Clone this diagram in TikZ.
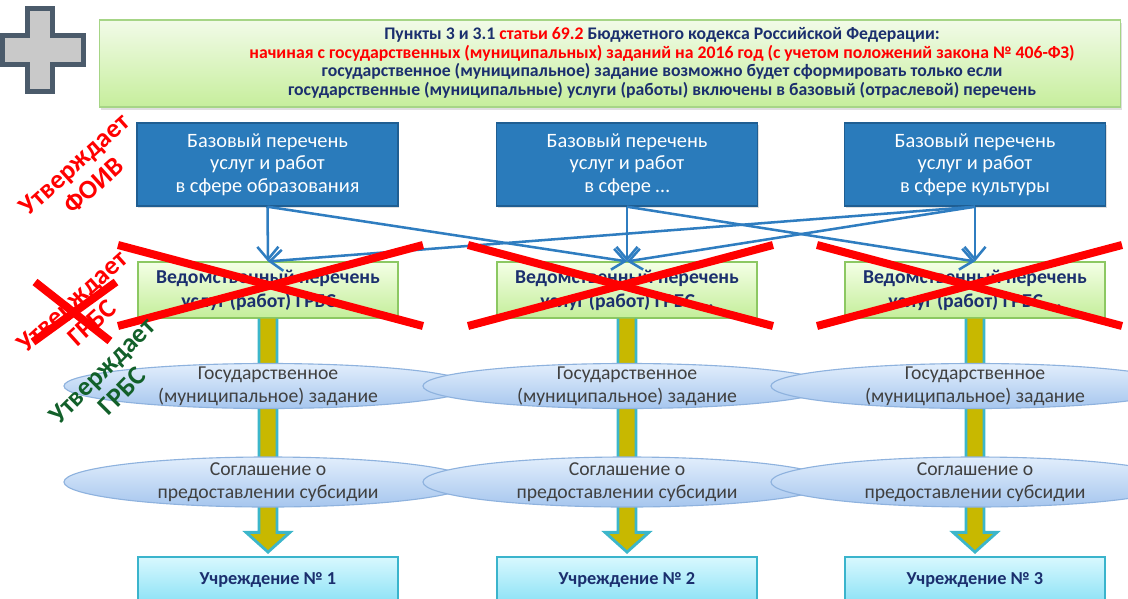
\documentclass[tikz,border=0pt]{standalone}
\usepackage{fontspec}
\setmainfont{Carlito}
\usetikzlibrary{arrows.meta,shapes.geometric,calc,shadows}

\definecolor{baseblue}{HTML}{2A7BBB}
\definecolor{baseedge}{HTML}{1F5E92}
\definecolor{navytext}{HTML}{1B2F6E}
\definecolor{linkblue}{HTML}{2F7DC0}
\definecolor{fatfill}{HTML}{C8B800}
\definecolor{fatedge}{HTML}{3CB6CA}
\definecolor{grbsgreen}{HTML}{12602A}
\definecolor{plusfill}{HTML}{C9C9C9}
\definecolor{plusedge}{HTML}{4B5B6B}
\definecolor{lawtop}{HTML}{F2FBE8}
\definecolor{lawbottom}{HTML}{C6EE9C}
\definecolor{lawedge}{HTML}{A6D586}
\definecolor{vptop}{HTML}{F4FFE6}
\definecolor{vpbottom}{HTML}{C4EE9A}
\definecolor{vpedge}{HTML}{8CC862}
\definecolor{tasktop}{HTML}{E2EEFC}
\definecolor{taskbottom}{HTML}{A6C6EE}
\definecolor{taskedge}{HTML}{8EB2DE}
\definecolor{insttop}{HTML}{D8F8FE}
\definecolor{instbottom}{HTML}{8CE2F6}
\definecolor{instedge}{HTML}{3AB4CC}
\definecolor{crossred}{HTML}{FF0000}

\begin{document}
\begin{tikzpicture}[x=0.025cm,y=-0.025cm]
    % --- Dimensions (pixels of the slide) ---
    \def\ColA{268}    % centre of column 1
    \def\ColB{627}    % centre of column 2
    \def\ColC{975}    % centre of column 3
    \def\BaseY{164.5} % base lists
    \def\VpY{290}     % departmental lists
    \def\TaskY{386}   % state task
    \def\DealY{482}   % subsidy agreement
    \def\InstY{580}   % institutions

    % --- Styles ---
    \tikzset{
        law box/.style={
            draw=lawedge, line width=0.8pt,
            top color=lawtop, bottom color=lawbottom,
            minimum width=25.5cm, minimum height=2.175cm,
            drop shadow={shadow xshift=1pt, shadow yshift=-2pt, opacity=0.25}
        },
        law text/.style={font=\bfseries\fontsize{12.6}{13.3}\selectfont,
            text=navytext, align=center},
        base box/.style={
            draw=baseedge, line width=1pt, fill=baseblue,
            minimum width=6.525cm, minimum height=2.075cm,
            text=white, align=center,
            font=\fontsize{14.5}{16}\selectfont,
            drop shadow={shadow xshift=1pt, shadow yshift=-1.5pt, opacity=0.25}
        },
        vp box/.style={
            draw=vpedge, line width=0.8pt,
            top color=vptop, bottom color=vpbottom,
            minimum width=6.5cm, minimum height=1.4cm,
            text=navytext, align=center,
            font=\bfseries\fontsize{14}{17}\selectfont
        },
        inst box/.style={
            draw=instedge, line width=1pt,
            top color=insttop, bottom color=instbottom,
            minimum width=6.5cm, minimum height=1.15cm,
            text=navytext, font=\bfseries\fontsize{13}{15}\selectfont
        },
        task ellipse/.style={
            ellipse, draw=taskedge, line width=0.8pt,
            top color=tasktop, bottom color=taskbottom,
            minimum width=10.2cm, inner sep=0pt
        },
        task text/.style={text=black!75, align=center,
            font=\fontsize{14}{16.5}\selectfont},
        link/.style={
            linkblue, line width=1.8pt,
            -{Straight Barb[length=9pt,width=15pt]}
        },
        fat arrow/.style={fill=fatfill, draw=fatedge, line width=2pt,
            line join=miter},
        red cross/.style={crossred, line width=5.7pt},
        stamp/.style={font=\bfseries\fontsize{19}{20.5}\selectfont,
            align=center}
    }

    \useasboundingbox (0,0) rectangle (1128,598);

    % =========================================================
    % 1. PLUS SIGN AND LAW BOX
    % =========================================================
    \filldraw[fill=plusfill, draw=plusedge, line width=3.5pt]
        (27.5,8.5) -- (52.5,8.5) -- (52.5,35.5) -- (83.5,35.5)
        -- (83.5,64.5) -- (52.5,64.5) -- (52.5,91.5) -- (27.5,91.5)
        -- (27.5,64.5) -- (2.5,64.5) -- (2.5,35.5) -- (27.5,35.5) -- cycle;

    \node[law box] (law) at (610,63.5) {};
    \node[law text] (lawtxt) at (662,63) {
        Пункты 3 и 3.1 \textcolor{crossred}{статьи 69.2} Бюджетного кодекса Российской Федерации:\\
        \textcolor{crossred}{начиная с государственных (муниципальных) заданий на 2016 год (с учетом положений закона № 406-ФЗ)}\\
        государственное (муниципальное) задание возможно будет сформировать только если\\
        государственные (муниципальные) услуги (работы) включены в базовый (отраслевой) перечень
    };

    % =========================================================
    % 2. BOXES
    % =========================================================
    \node[base box] (base1) at (267.5,\BaseY) {Базовый перечень\\услуг и работ\\в сфере образования};
    \node[base box] (base2) at (\ColB,\BaseY) {Базовый перечень\\услуг и работ\\в сфере \dots};
    \node[base box] (base3) at (\ColC,\BaseY) {Базовый перечень\\услуг и работ\\в сфере культуры};

    \node[vp box] (vp1) at (\ColA,\VpY) {Ведомственный перечень\\услуг (работ) ГРБС \dots};
    \node[vp box] (vp2) at (\ColB,\VpY) {Ведомственный перечень\\услуг (работ) ГРБС \dots};
    \node[vp box] (vp3) at (\ColC,\VpY) {Ведомственный перечень\\услуг (работ) ГРБС \dots};

    \node[inst box] (inst1) at (\ColA,\InstY) {Учреждение № 1};
    \node[inst box] (inst2) at (\ColB,\InstY) {Учреждение № 2};
    \node[inst box] (inst3) at (\ColC,\InstY) {Учреждение № 3};

    % =========================================================
    % 3. CONNECTORS
    % =========================================================
    \foreach \a/\b in {1/1,1/2,2/2,2/3,3/3,3/1,3/2}
        \draw[link] (base\a.south) -- (vp\b.north);

    % thick yellow arrows (top edge left open)
    \foreach \i in {1,2,3} {
        \path[fat arrow] let \p1=(vp\i.south), \p2=(inst\i.north) in
            (\x1-6.4pt,\y1) -- (\x1-6.4pt,\y2+17pt) -- (\x1-15.6pt,\y2+17pt)
            -- (\x1,\y2+3pt) -- (\x1+15.6pt,\y2+17pt) -- (\x1+6.4pt,\y2+17pt)
            -- (\x1+6.4pt,\y1);
    }

    % =========================================================
    % 4. ELLIPSES
    % =========================================================
    \node[task ellipse, minimum height=1.125cm] (task1) at (\ColA,\TaskY) {};
    \node[task ellipse, minimum height=1.125cm] (task2) at (\ColB,\TaskY) {};
    \node[task ellipse, minimum height=1.125cm] (task3) at (\ColC,\TaskY) {};
    \node[task ellipse, minimum height=1.25cm] (deal1) at (\ColA,\DealY) {};
    \node[task ellipse, minimum height=1.25cm] (deal2) at (\ColB,\DealY) {};
    \node[task ellipse, minimum height=1.25cm] (deal3) at (\ColC,\DealY) {};

    \foreach \i in {1,2,3} {
        \node[task text] (task\i txt) at (task\i) {Государственное\\(муниципальное) задание};
        \node[task text] (deal\i txt) at (deal\i) {Соглашение о\\предоставлении субсидии};
    }

    % =========================================================
    % 5. CROSSES AND STAMPS
    % =========================================================
    \draw[red cross] (118,245) -- (423,326);
    \draw[red cross] (118,326) -- (423,245);
    \draw[red cross] (468,245) -- (773,326);
    \draw[red cross] (468,326) -- (773,245);
    \draw[red cross] (817,245) -- (1122,326);
    \draw[red cross] (817,326) -- (1122,245);

    \node[stamp, text=crossred, rotate=42] (foiv) at (84,175) {Утверждает\\ФОИВ};
    \node[stamp, text=crossred, rotate=42] (grbsold) at (82,312) {Утверждает\\ГРБС};
    \draw[red cross] (35,282) -- (110,341);
    \draw[red cross] (116,282) -- (33,342);
    \node[stamp, text=grbsgreen, rotate=45] (grbs) at (112,381) {Утверждает\\ГРБС};

\end{tikzpicture}
\end{document}
